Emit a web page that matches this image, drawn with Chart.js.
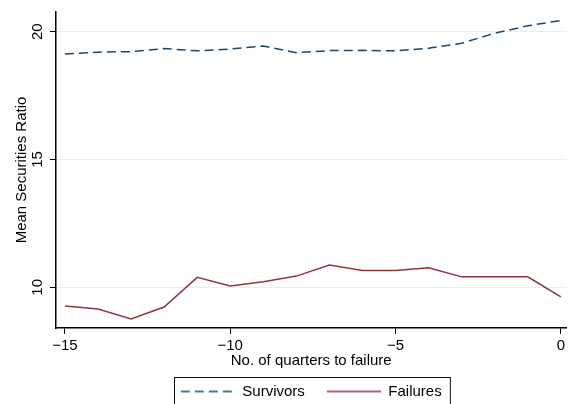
<!DOCTYPE html>
<html>
<head>
<meta charset="utf-8">
<script src="https://cdn.jsdelivr.net/npm/chart.js@4/dist/chart.umd.min.js"></script>
<style>
  html, body { margin: 0; padding: 0; background: #fff; overflow: hidden; }
  #wrap { width: 568px; height: 404px; }
</style>
</head>
<body>
<div id="wrap"><canvas id="chart"></canvas></div>
<script>
const quarters = [-15, -14, -13, -12, -11, -10, -9, -8, -7, -6, -5, -4, -3, -2, -1, 0];
const survivors = [19.13, 19.2, 19.22, 19.34, 19.25, 19.32, 19.44, 19.18, 19.26, 19.27, 19.25, 19.35, 19.55, 19.94, 20.23, 20.44];
const failures = [9.27, 9.15, 8.76, 9.23, 10.39, 10.05, 10.22, 10.44, 10.87, 10.66, 10.66, 10.77, 10.41, 10.41, 10.41, 9.63];
const xTicks = [-15, -10, -5, 0];
const yTicks = [10, 15, 20];

const FONT = '"Liberation Sans", Arial, Helvetica, sans-serif';
const SAMPLE_W = 54;

// legend samples: the point-style legend ignores borderDash, so draw the line into a small canvas
function lineSample(color, dash) {
  const c = document.createElement('canvas');
  c.width = SAMPLE_W;
  c.height = 4;
  const g = c.getContext('2d');
  g.strokeStyle = color;
  g.lineWidth = 1.5;
  g.setLineDash(dash);
  g.beginPath();
  g.moveTo(0, 2);
  g.lineTo(SAMPLE_W, 2);
  g.stroke();
  return c;
}

// y tick labels are rotated in the original, Chart.js can't rotate them on a vertical axis
const stataExtras = {
  id: 'stataExtras',
  afterDraw(chart) {
    const ctx = chart.ctx;
    const y = chart.scales.y;
    ctx.save();
    ctx.fillStyle = '#000';
    ctx.font = '15px ' + FONT;
    ctx.textAlign = 'center';
    ctx.textBaseline = 'middle';
    yTicks.forEach(v => {
      ctx.save();
      ctx.translate(38, y.getPixelForValue(v));
      ctx.rotate(-Math.PI / 2);
      ctx.fillText(String(v), 0, 0);
      ctx.restore();
    });

    // frame round the legend
    const boxes = chart.legend.legendHitBoxes;
    if (boxes && boxes.length) {
      const left = Math.min(...boxes.map(b => b.left)) - 7;
      const right = Math.max(...boxes.map(b => b.left + b.width)) + 8;
      const top = boxes[0].top + boxes[0].height / 2 - 15;
      ctx.strokeStyle = '#111';
      ctx.lineWidth = 1;
      ctx.strokeRect(Math.round(left) + 0.5, Math.round(top) + 0.5, right - left, 60);
    }
    ctx.restore();
  }
};

new Chart(document.getElementById('chart'), {
  type: 'line',
  data: {
    datasets: [
      {
        label: 'Survivors',
        data: quarters.map((q, i) => ({ x: q, y: survivors[i] })),
        borderColor: '#1a476f',
        borderWidth: 1.5,
        borderDash: [9, 5],
        pointRadius: 0,
        pointStyle: lineSample('#1a476f', [9, 5]),
        fill: false
      },
      {
        label: 'Failures',
        data: quarters.map((q, i) => ({ x: q, y: failures[i] })),
        borderColor: '#90353b',
        borderWidth: 1.5,
        pointRadius: 0,
        pointStyle: lineSample('#90353b', []),
        fill: false
      }
    ]
  },
  options: {
    responsive: true,
    maintainAspectRatio: false,
    animation: false,
    layout: { padding: { top: 10, right: 0, left: 0, bottom: 0 } },
    plugins: {
      tooltip: { enabled: false },
      legend: {
        position: 'bottom',
        fullSize: false,
        maxHeight: 42,
        labels: {
          usePointStyle: true,
          pointStyleWidth: SAMPLE_W,
          padding: 22,
          color: '#000',
          font: { family: FONT, size: 15 }
        }
      }
    },
    scales: {
      x: {
        type: 'linear',
        min: -15.27,
        max: 0.17,
        afterBuildTicks: s => { s.ticks = xTicks.map(v => ({ value: v })); },
        afterFit: s => { s.height = 34; },
        grid: { drawOnChartArea: false, tickColor: '#000', tickLength: 6, tickWidth: 1 },
        border: { color: '#000', width: 1.5 },
        ticks: {
          padding: 3,
          color: '#000',
          font: { family: FONT, size: 15 },
          maxRotation: 0,
          callback: v => String(v).replace('-', '\u2212')
        },
        title: {
          display: true,
          text: 'No. of quarters to failure',
          color: '#000',
          font: { family: FONT, size: 15 },
          padding: { top: 0, bottom: -8 }
        }
      },
      y: {
        min: 8.41,
        max: 20.77,
        afterBuildTicks: s => { s.ticks = yTicks.map(v => ({ value: v })); },
        afterFit: s => { s.width = 56; },
        grid: { color: '#e6eef1', lineWidth: 1, tickColor: '#000', tickLength: 6, tickWidth: 1 },
        border: { color: '#000', width: 1.5 },
        ticks: { color: 'rgba(0,0,0,0)', font: { family: FONT, size: 15 } },
        title: {
          display: true,
          text: 'Mean Securities Ratio',
          color: '#000',
          font: { family: FONT, size: 15 },
          padding: { top: 13, bottom: 0 }
        }
      }
    }
  },
  plugins: [stataExtras]
});
</script>
</body>
</html>
